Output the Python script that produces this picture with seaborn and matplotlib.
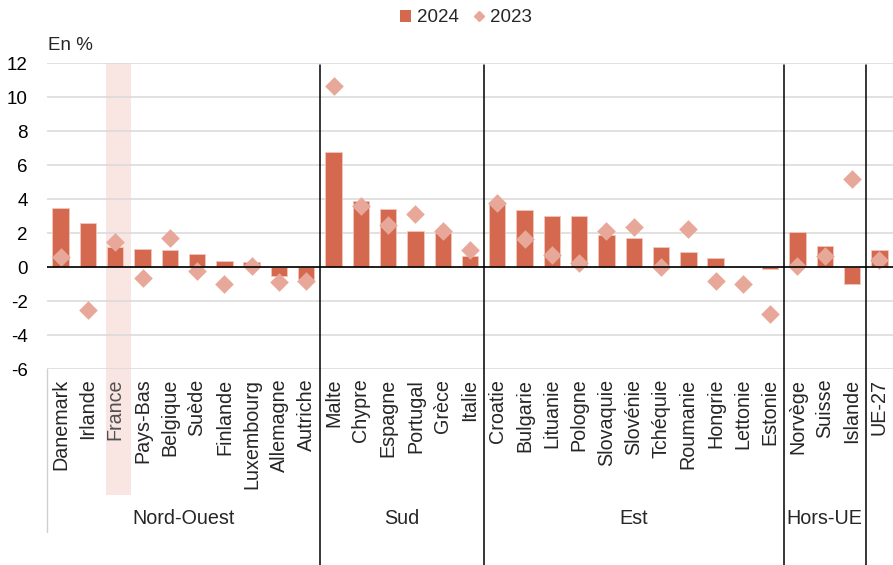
import matplotlib
matplotlib.use("Agg")
import matplotlib.pyplot as plt
import matplotlib.transforms as mtransforms
from matplotlib.lines import Line2D
from matplotlib.patches import Patch, Rectangle
import seaborn as sns
import pandas as pd

countries = ["Danemark", "Irlande", "France", "Pays-Bas", "Belgique", "Suède",
             "Finlande", "Luxembourg", "Allemagne", "Autriche",
             "Malte", "Chypre", "Espagne", "Portugal", "Grèce", "Italie",
             "Croatie", "Bulgarie", "Lituanie", "Pologne", "Slovaquie", "Slovénie",
             "Tchéquie", "Roumanie", "Hongrie", "Lettonie", "Estonie",
             "Norvège", "Suisse", "Islande", "UE-27"]
v2024 = [3.45, 2.6, 1.15, 1.05, 1.02, 0.78, 0.37, 0.31, -0.53, -0.69,
         6.78, 3.9, 3.42, 2.12, 2.02, 0.65,
         3.78, 3.35, 3.02, 2.98, 1.9, 1.7, 1.2, 0.88, 0.51, 0.0, -0.1,
         2.06, 1.24, -1.0, 1.0]
v2023 = [0.6, -2.55, 1.45, -0.65, 1.7, -0.22, -0.98, 0.08, -0.88, -0.8,
         10.65, 3.6, 2.45, 3.1, 2.14, 0.98,
         3.75, 1.67, 0.7, 0.22, 2.1, 2.37, 0.02, 2.23, -0.83, -0.98, -2.75,
         0.05, 0.65, 5.16, 0.4]
groups = ["Nord-Ouest", "Sud", "Est", "Hors-UE", ""]
group_sizes = [10, 6, 11, 3, 1]
yticks = [-6, -4, -2, 0, 2, 4, 6, 8, 10, 12]
highlight = "France"

BAR = "#D4694F"
DIA = "#E8A899"
FS = 13.5
FSX = 14.2

sns.set_style("white")
plt.rcParams["font.family"] = ["Liberation Sans", "DejaVu Sans"]

W, H = 893, 565
fig = plt.figure(figsize=(W / 100, H / 100), dpi=100)
ax_left, ax_right, ax_top, ax_bot = 47, 893, 63, 369
ax = fig.add_axes([ax_left / W, 1 - ax_bot / H, (ax_right - ax_left) / W, (ax_bot - ax_top) / H])

df = pd.DataFrame({"pays": countries, "y2024": v2024, "y2023": v2023})

# highlight band for France
hi = countries.index(highlight)
band_bottom = (ax_bot - 495) / (ax_bot - ax_top)
trans = mtransforms.blended_transform_factory(ax.transData, ax.transAxes)
ax.add_patch(Rectangle((hi - 0.32, band_bottom), 0.9, 1 - band_bottom, transform=trans,
                       facecolor="#F9E6E2", edgecolor="none", zorder=0, clip_on=False))

sns.barplot(data=df, x="pays", y="y2024", color=BAR, saturation=1, width=0.6,
            edgecolor="#F2C7BC", linewidth=0.6, ax=ax, zorder=3)
sns.stripplot(data=df, x="pays", y="y2023", color=DIA, marker="D", size=9.5,
              jitter=False, linewidth=0, ax=ax, zorder=4)

ax.set_xlim(-0.5, len(countries) - 0.5)
ax.set_ylim(-6, 12)
ax.set_yticks(yticks)
ax.set_yticklabels([str(t) for t in yticks], fontsize=FS)
ax.yaxis.grid(True, color="#D9D9D9", linewidth=1.1, zorder=0)
ax.set_axisbelow(True)
ax.axhline(0, color="black", linewidth=1.2, zorder=5)
for s in ax.spines.values():
    s.set_visible(False)
ax.tick_params(axis="y", length=0, pad=14, labelcolor="black")
ax.tick_params(axis="x", length=0, pad=7)
ax.set_xticks(range(len(countries)))
ax.set_xticklabels(countries, rotation=90, fontsize=FSX, va="top", ha="center")
for lab in ax.get_xticklabels():
    if lab.get_text() == highlight:
        lab.set_color("#505050")
ax.set_xlabel("")
ax.set_ylabel("")

# group separators and labels
bottom_axes = (ax_bot - H) / (ax_bot - ax_top)
left_line_end = (ax_bot - 532) / (ax_bot - ax_top)
ax.add_line(Line2D([-0.5, -0.5], [0, left_line_end], transform=trans, color="#D0D0D0",
                   linewidth=1.0, clip_on=False))
label_y = (ax_bot - 519) / (ax_bot - ax_top)
start = 0
for g, n in zip(groups, group_sizes):
    end = start + n
    if end < len(countries):
        ax.add_line(Line2D([end - 0.5, end - 0.5], [0.993, bottom_axes], transform=trans,
                           color="black", linewidth=1.1, clip_on=False, zorder=6))
    if g:
        ax.text((start + end - 1) / 2, label_y, g, transform=trans, ha="center",
                va="center", fontsize=FSX, clip_on=False)
    start = end

fig.text(48 / W, 1 - 46 / H, "En %", fontsize=FS, ha="left", va="center")

handles = [Patch(facecolor=BAR, edgecolor="none", label="2024"),
           Line2D([], [], marker="D", linestyle="none", color=DIA, markersize=5.5, label="2023")]
fig.legend(handles=handles, loc="center", bbox_to_anchor=(466 / W, 1 - 18 / H), ncol=2,
           frameon=False, fontsize=FS, handlelength=0.6, handleheight=0.6,
           handletextpad=0.3, columnspacing=0.8)

fig.savefig("out.png", dpi=100)
